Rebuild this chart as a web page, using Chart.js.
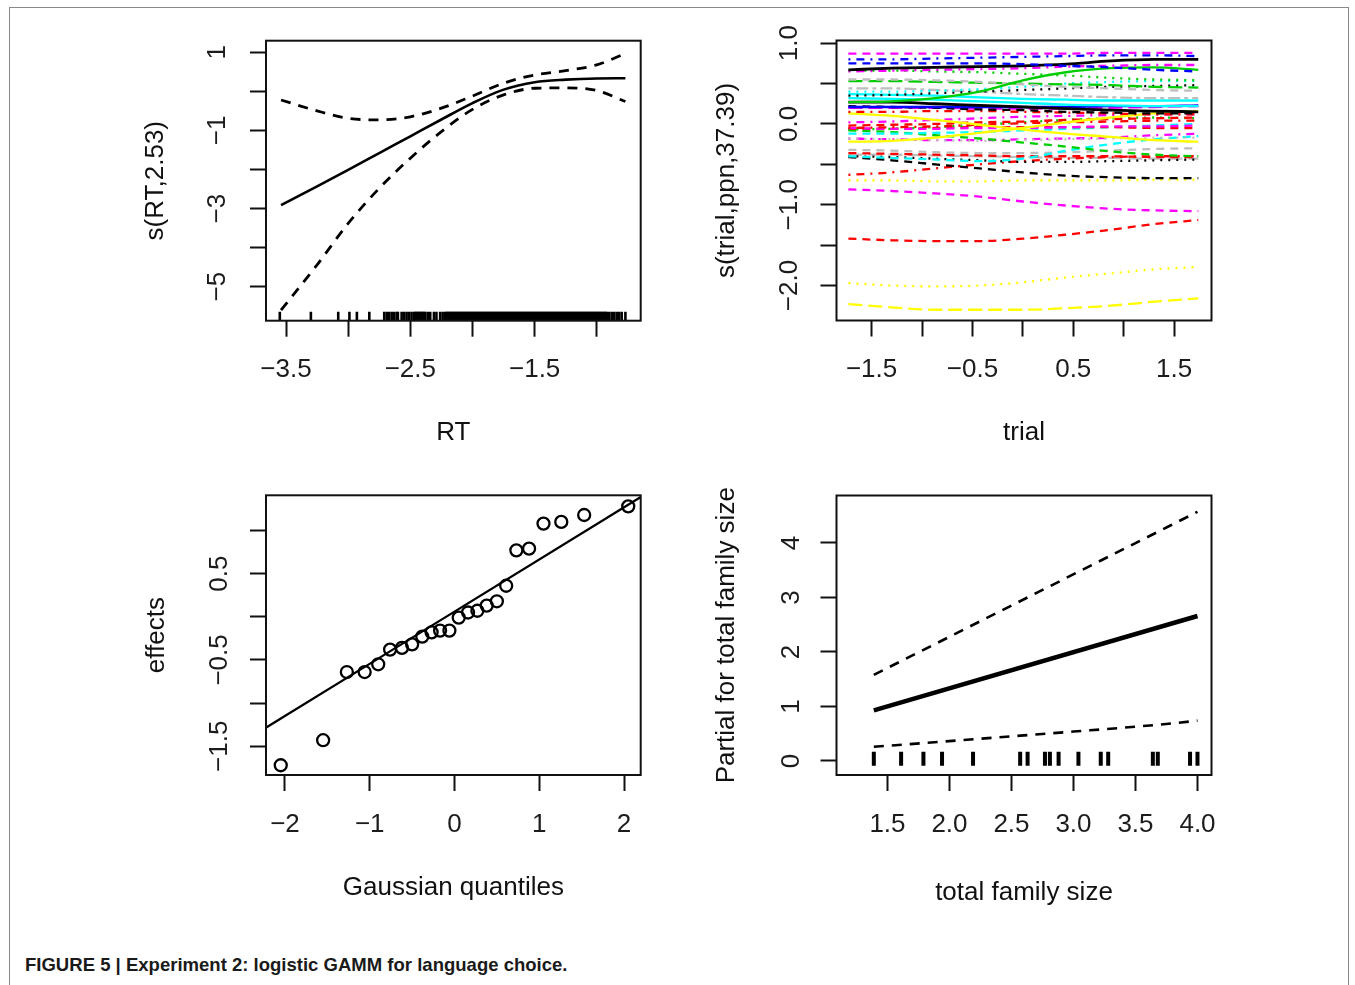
<!DOCTYPE html>
<html lang="en">
<head>
<meta charset="utf-8">
<title>Experiment 2: logistic GAMM for language choice</title>
<script src="https://cdn.jsdelivr.net/npm/chart.js@4.4.1/dist/chart.umd.min.js"></script>
<style>
  html, body { margin: 0; padding: 0; background: #fff; }
  body { position: relative; width: 1355px; height: 985px; overflow: hidden; }
  .frame { position: absolute; left: 9px; top: 7px; width: 1338px; height: 1200px; border: 1px solid #8a8a8a; }
  canvas.panel { position: absolute; }
  .caption {
    position: absolute; left: 25px; top: 954px;
    font: bold 19px 'Liberation Sans Narrow', 'Arial Narrow', 'Liberation Sans', sans-serif;
    color: #1a1a1a; white-space: nowrap;
    transform: scaleX(0.975); transform-origin: left center;
  }
</style>
</head>
<body>
<div class="frame"></div>
<canvas id="rtChart" class="panel"></canvas>
<canvas id="trialChart" class="panel"></canvas>
<canvas id="qqChart" class="panel"></canvas>
<canvas id="familyChart" class="panel"></canvas>
<div class="caption">FIGURE 5 | Experiment 2: logistic GAMM for language choice.</div>

<script>
// ---- s(RT): smooth with +/- 2 se bands and rug of observed RTs ----
const rtX = [-3.54, -3.25, -3.0, -2.75, -2.5, -2.25, -2.0, -1.75, -1.5, -1.25, -1.0, -0.77];
const rtFit = [-2.91, -2.43, -2.01, -1.58, -1.15, -0.72, -0.30, 0.045, 0.235, 0.30, 0.33, 0.335];
const rtUpper = [-0.22, -0.50, -0.69, -0.73, -0.65, -0.43, -0.12, 0.21, 0.42, 0.53, 0.68, 0.97];
const rtLower = [-5.60, -4.44, -3.38, -2.48, -1.71, -1.03, -0.46, -0.09, 0.08, 0.09, 0.02, -0.26];
const rtRug = [
  -3.55, -3.30, -3.08, -2.99, -2.93, -2.83, -2.71, -2.69, -2.67, -2.65, -2.63, -2.61, -2.60,
  -2.57, -2.55, -2.53, -2.51, -2.49,
  -2.47, -2.46, -2.45, -2.44, -2.43, -2.42, -2.41, -2.40, -2.39, -2.38,
  -2.36, -2.34, -2.31, -2.29, -2.26, -2.24, -2.22,
  -2.21, -2.20, -2.19, -2.18, -2.17, -2.16, -2.15, -2.14, -2.13, -2.12,
  -2.11, -2.10, -2.09, -2.08, -2.07, -2.06, -2.05, -2.04, -2.03, -2.02,
  -2.01, -2.00, -1.99, -1.98, -1.97, -1.96, -1.95, -1.94, -1.93, -1.92,
  -1.91, -1.90, -1.89, -1.88, -1.87, -1.86, -1.85, -1.84, -1.83, -1.82,
  -1.81, -1.80, -1.79, -1.78, -1.77, -1.76, -1.75, -1.74, -1.73, -1.72,
  -1.71, -1.70, -1.69, -1.68, -1.67, -1.66, -1.65, -1.64, -1.63, -1.62,
  -1.61, -1.60, -1.59, -1.58, -1.57, -1.56, -1.55, -1.54, -1.53, -1.52,
  -1.51, -1.50, -1.49, -1.48, -1.47, -1.46, -1.45, -1.44, -1.43, -1.42,
  -1.41, -1.40, -1.39, -1.38, -1.37, -1.36, -1.35, -1.34, -1.33, -1.32,
  -1.31, -1.30, -1.29, -1.28, -1.27, -1.26, -1.25, -1.24, -1.23, -1.22,
  -1.21, -1.20, -1.19, -1.18, -1.17, -1.16, -1.15, -1.14, -1.13, -1.12,
  -1.11, -1.10, -1.09, -1.08, -1.07, -1.06, -1.05, -1.04, -1.03, -1.02,
  -1.01, -1.00, -0.99, -0.98, -0.97, -0.96, -0.95, -0.94, -0.93, -0.92,
  -0.90, -0.88, -0.86, -0.84, -0.82, -0.80, -0.77
];
const rtRugLevel = -5.755;
const rtTicksX = [-3.5, -3, -2.5, -2, -1.5, -1];
const rtLabelsX = [-3.5, -2.5, -1.5];
const rtTicksY = [-5, -4, -3, -2, -1, 0, 1];
const rtLabelsY = [-5, -3, -1, 1];

// ---- s(trial, ppn): one curve per participant ----
const trialX = [-1.73, -1.3, -0.87, -0.43, 0, 0.43, 0.87, 1.3, 1.74];
const ppnCurves = [
  [0.87, 0.87, 0.87, 0.87, 0.87, 0.87, 0.88, 0.88, 0.88],
  [0.80, 0.80, 0.81, 0.82, 0.83, 0.84, 0.85, 0.85, 0.84],
  [0.75, 0.75, 0.75, 0.75, 0.74, 0.72, 0.70, 0.67, 0.65],
  [0.67, 0.69, 0.70, 0.71, 0.72, 0.74, 0.78, 0.80, 0.80],
  [0.65, 0.66, 0.67, 0.68, 0.69, 0.71, 0.72, 0.73, 0.73],
  [0.66, 0.66, 0.65, 0.64, 0.62, 0.60, 0.57, 0.55, 0.54],
  [0.27, 0.28, 0.32, 0.40, 0.54, 0.64, 0.69, 0.70, 0.67],
  [0.55, 0.55, 0.54, 0.52, 0.49, 0.46, 0.44, 0.42, 0.41],
  [0.53, 0.53, 0.52, 0.51, 0.50, 0.49, 0.48, 0.46, 0.45],
  [0.40, 0.40, 0.41, 0.43, 0.46, 0.50, 0.52, 0.53, 0.53],
  [0.35, 0.36, 0.38, 0.40, 0.42, 0.44, 0.46, 0.47, 0.48],
  [0.44, 0.44, 0.42, 0.40, 0.37, 0.35, 0.33, 0.32, 0.32],
  [0.37, 0.36, 0.35, 0.33, 0.31, 0.30, 0.29, 0.29, 0.29],
  [0.32, 0.31, 0.30, 0.28, 0.26, 0.24, 0.23, 0.22, 0.22],
  [0.27, 0.27, 0.25, 0.23, 0.21, 0.19, 0.17, 0.16, 0.15],
  [0.21, 0.21, 0.21, 0.21, 0.21, 0.21, 0.22, 0.22, 0.23],
  [0.22, 0.21, 0.20, 0.18, 0.17, 0.15, 0.14, 0.13, 0.13],
  [0.20, 0.20, 0.20, 0.19, 0.19, 0.19, 0.20, 0.21, 0.22],
  [0.15, 0.15, 0.16, 0.16, 0.15, 0.14, 0.13, 0.12, 0.12],
  [0.13, 0.10, 0.05, -0.01, -0.07, -0.12, -0.16, -0.20, -0.22],
  [-0.22, -0.21, -0.17, -0.11, -0.05, 0.02, 0.08, 0.13, 0.16],
  [0.02, 0.03, 0.05, 0.07, 0.09, 0.10, 0.11, 0.12, 0.12],
  [-0.02, -0.01, 0.00, 0.02, 0.03, 0.05, 0.06, 0.07, 0.08],
  [-0.05, -0.04, -0.03, -0.01, 0.01, 0.02, 0.03, 0.04, 0.04],
  [-0.05, -0.06, -0.06, -0.05, -0.05, -0.04, -0.03, -0.03, -0.02],
  [-0.07, -0.06, -0.04, -0.01, 0.02, 0.05, 0.07, 0.08, 0.07],
  [-0.06, -0.06, -0.05, -0.04, -0.04, -0.04, -0.04, -0.05, -0.05],
  [-0.12, -0.12, -0.11, -0.10, -0.08, -0.06, -0.04, -0.02, 0.00],
  [-0.08, -0.10, -0.14, -0.18, -0.23, -0.28, -0.34, -0.38, -0.40],
  [-0.18, -0.19, -0.20, -0.21, -0.20, -0.19, -0.18, -0.17, -0.17],
  [-0.18, -0.19, -0.20, -0.20, -0.19, -0.18, -0.17, -0.14, -0.12],
  [-0.40, -0.42, -0.44, -0.46, -0.43, -0.33, -0.25, -0.19, -0.15],
  [-0.32, -0.33, -0.35, -0.36, -0.36, -0.35, -0.33, -0.31, -0.30],
  [-0.41, -0.45, -0.50, -0.55, -0.60, -0.64, -0.66, -0.67, -0.67],
  [-0.40, -0.41, -0.43, -0.45, -0.47, -0.47, -0.46, -0.45, -0.44],
  [-0.63, -0.60, -0.55, -0.50, -0.46, -0.43, -0.41, -0.40, -0.40],
  [-0.36, -0.37, -0.38, -0.39, -0.40, -0.40, -0.40, -0.41, -0.41],
  [-0.38, -0.38, -0.39, -0.40, -0.41, -0.42, -0.42, -0.43, -0.43],
  [-0.70, -0.70, -0.71, -0.71, -0.70, -0.70, -0.70, -0.69, -0.69],
  [-0.81, -0.83, -0.86, -0.90, -0.96, -1.01, -1.05, -1.07, -1.08],
  [-1.42, -1.44, -1.45, -1.45, -1.42, -1.37, -1.31, -1.24, -1.19],
  [-1.97, -2.00, -2.01, -2.00, -1.96, -1.90, -1.85, -1.80, -1.77],
  [-2.23, -2.27, -2.30, -2.30, -2.30, -2.28, -2.25, -2.20, -2.16]
];
const ppnColours = [
  'm', 'b', 'b', 'k', 'm', 'g', 'g', 'e', 'g', 'c', 'k', 'e', 'c', 'c', 'k', 'b', 'k', 'm',
  'r', 'y', 'y', 'm', 'r', 'r', 'm', 'g', 'r', 'c', 'g', 'e', 'm', 'c', 'e', 'k', 'k', 'r',
  'r', 'e', 'y', 'm', 'r', 'y', 'y'
];
const ppnLineTypes = [
  'dashed', 'dotdash', 'dashed', 'solid', 'dotdash', 'dotted', 'solid', 'dashed', 'longdash',
  'dotted', 'dotted', 'twodash', 'solid', 'solid', 'solid', 'solid', 'dashed', 'longdash',
  'dotdash', 'solid', 'solid', 'dotdash', 'dashed', 'dotdash', 'dashed', 'dotted', 'dashed',
  'dashed', 'dashed', 'dotted', 'dotdash', 'dashed', 'dashed', 'dashed', 'dotted', 'dotdash',
  'dashed', 'longdash', 'dotted', 'dashed', 'dashed', 'dotted', 'longdash'
];
const trialTicksX = [-1.5, -1, -0.5, 0, 0.5, 1, 1.5];
const trialLabelsX = [-1.5, -0.5, 0.5, 1.5];
const trialTicksY = [-2, -1.5, -1, -0.5, 0, 0.5, 1];
const trialLabelsY = [-2, -1, 0, 1];

// ---- QQ plot of participant random effects ----
const qqTheoretical = [
  -2.05, -1.55, -1.27, -1.06, -0.90, -0.76, -0.62, -0.50, -0.38, -0.27, -0.17, -0.06,
  0.05, 0.16, 0.27, 0.38, 0.50, 0.61, 0.73, 0.88, 1.05, 1.26, 1.53, 2.05
];
const qqEffects = [
  -1.72, -1.43, -0.64, -0.64, -0.55, -0.38, -0.36, -0.32, -0.23, -0.18, -0.16, -0.16,
  -0.01, 0.05, 0.07, 0.13, 0.18, 0.36, 0.77, 0.79, 1.08, 1.10, 1.18, 1.28
];
const qqLineX = [-2.3, 2.3];
const qqLineY = [-1.33, 1.45];
const qqTicksX = [-2, -1, 0, 1, 2];
const qqTicksY = [-1.5, -1, -0.5, 0, 0.5, 1];
const qqLabelsY = [-1.5, -0.5, 0.5];

// ---- partial effect of total family size ----
const famX = [1.39, 4.0];
const famFit = [0.93, 2.66];
const famUpper = [1.58, 4.57];
const famLowerX = [1.39, 1.8, 2.2, 2.6, 3.0, 3.4, 3.8, 4.0];
const famLower = [0.26, 0.33, 0.40, 0.47, 0.54, 0.61, 0.69, 0.74];
const famRug = [1.39, 1.61, 1.79, 1.94, 2.19, 2.57, 2.63, 2.77, 2.81, 2.88, 3.04, 3.22, 3.28, 3.64, 3.68, 3.94, 4.00];
const famRugLevel = 0.04;
const famTicksX = [1.5, 2, 2.5, 3, 3.5, 4];
const famTicksY = [0, 1, 2, 3, 4];

// ---- styling ----
const FONT = "'Liberation Sans', Arimo, Arial, sans-serif";
const FONT_SIZE = 26;
const INK = '#1c1c1c';
const TICK_LEN = 16;

const palette = {
  k: '#000000', r: '#ff0000', g: '#00cd00', b: '#0000ff',
  c: '#00ffff', m: '#ff00ff', y: '#ffff00', e: '#bebebe'
};
const dashes = {
  solid: [], dashed: [8, 6], dotted: [2, 6], dotdash: [2, 6, 8, 6],
  longdash: [14, 6], twodash: [4, 4, 12, 4]
};

Chart.defaults.font.family = FONT;
Chart.defaults.font.size = FONT_SIZE;
Chart.defaults.color = INK;
Chart.defaults.animation = false;
Chart.defaults.plugins.legend.display = false;
Chart.defaults.plugins.tooltip.enabled = false;

const fmt = (v, digits) => (v < 0 ? '\u2212' : '') + Math.abs(v).toFixed(digits);
const xy = (xs, ys) => xs.map((x, i) => ({ x, y: ys[i] }));

const measureCtx = document.createElement('canvas').getContext('2d');
measureCtx.font = `${FONT_SIZE}px ${FONT}`;
const textWidth = s => measureCtx.measureText(s).width;

// box drawn round the plotting region, like base graphics
const plotBox = {
  id: 'plotBox',
  afterDatasetsDraw(chart) {
    const { ctx, chartArea: a } = chart;
    ctx.save();
    ctx.strokeStyle = '#111';
    ctx.lineWidth = 2;
    ctx.strokeRect(a.left, a.top, a.right - a.left, a.bottom - a.top);
    ctx.restore();
  }
};

function curve(xs, ys, colour, width, dash) {
  return {
    data: xy(xs, ys),
    borderColor: colour,
    borderWidth: width,
    borderDash: dash,
    pointRadius: 0,
    fill: false,
    cubicInterpolationMode: 'monotone'
  };
}

function rug(xs, level, halfLen, width) {
  return {
    data: xs.map(x => ({ x, y: level })),
    showLine: false,
    pointStyle: 'line',
    rotation: 90,
    pointRadius: halfLen,
    pointHoverRadius: halfLen,
    borderColor: '#000',
    borderWidth: width
  };
}

function makePanel(id, p, datasets) {
  const el = document.getElementById(id);
  el.width = p.canvas.w;
  el.height = p.canvas.h;
  el.style.left = p.canvas.x + 'px';
  el.style.top = p.canvas.y + 'px';

  const yAxisW = p.box.left - p.canvas.x;
  const xAxisH = p.canvas.y + p.canvas.h - p.box.bottom;
  const widest = Math.max(...p.y.labels.map(v => textWidth(fmt(v, p.y.digits))));
  const yPad = p.box.left - TICK_LEN - widest / 2 - p.y.labelCentre;

  const tickGrid = {
    display: true, drawOnChartArea: false, drawTicks: true,
    tickLength: TICK_LEN, tickWidth: 2, tickColor: '#111'
  };

  return new Chart(el, {
    type: 'line',
    data: { datasets },
    options: {
      responsive: false,
      devicePixelRatio: 1,
      layout: {
        padding: {
          left: 0, bottom: 0,
          top: p.box.top - p.canvas.y,
          right: p.canvas.x + p.canvas.w - p.box.right
        }
      },
      scales: {
        x: {
          type: 'linear', min: p.x.min, max: p.x.max,
          afterBuildTicks: s => { s.ticks = p.x.ticks.map(v => ({ value: v })); },
          afterFit: s => { s.height = xAxisH; },
          grid: tickGrid,
          border: { display: false },
          ticks: {
            autoSkip: false, maxRotation: 0, padding: p.x.labelPad, color: INK,
            callback: v => (p.x.labels.includes(v) ? fmt(v, p.x.digits) : '')
          },
          title: {
            display: true, text: p.x.title, color: '#111',
            padding: { top: 0, bottom: p.x.titlePad }
          }
        },
        y: {
          type: 'linear', min: p.y.min, max: p.y.max,
          afterBuildTicks: s => { s.ticks = p.y.ticks.map(v => ({ value: v })); },
          afterFit: s => { s.width = yAxisW; },
          grid: tickGrid,
          border: { display: false },
          ticks: {
            autoSkip: false, minRotation: 90, maxRotation: 90, crossAlign: 'center',
            padding: yPad, color: INK,
            callback: v => (p.y.labels.includes(v) ? fmt(v, p.y.digits) : '')
          },
          title: {
            display: true, text: p.y.title, color: '#111',
            padding: { top: p.y.titlePad, bottom: 0 }
          }
        }
      }
    },
    plugins: [plotBox]
  });
}

// top left: s(RT,2.53)
makePanel('rtChart', {
  canvas: { x: 110, y: 0, w: 560, h: 470 },
  box: { left: 266, top: 40.7, right: 640.7, bottom: 320.7 },
  x: { min: -3.661, max: -0.647, ticks: rtTicksX, labels: rtLabelsX, digits: 1,
       labelPad: 18, title: 'RT', titlePad: 22 },
  y: { min: -5.87, max: 1.297, ticks: rtTicksY, labels: rtLabelsY, digits: 0,
       labelCentre: 218, title: 's(RT,2.53)', titlePad: 30 }
}, [
  curve(rtX, rtFit, '#000', 2.6, []),
  curve(rtX, rtUpper, '#000', 2.8, [10, 8]),
  curve(rtX, rtLower, '#000', 2.8, [10, 8]),
  rug(rtRug, rtRugLevel, 4.5, 2.6)
]);

// top right: s(trial,ppn,37.39)
makePanel('trialChart', {
  canvas: { x: 680, y: 0, w: 560, h: 470 },
  box: { left: 836.5, top: 40.5, right: 1211.5, bottom: 320.5 },
  x: { min: -1.848, max: 1.871, ticks: trialTicksX, labels: trialLabelsX, digits: 1,
       labelPad: 18, title: 'trial', titlePad: 22 },
  y: { min: -2.433, max: 1.033, ticks: trialTicksY, labels: trialLabelsY, digits: 1,
       labelCentre: 790, title: 's(trial,ppn,37.39)', titlePad: 31 }
}, ppnCurves.map((ys, i) => curve(
  trialX, ys, palette[ppnColours[i]],
  ppnColours[i] === 'k' && ppnLineTypes[i] === 'solid' ? 2.8 : 2.3,
  dashes[ppnLineTypes[i]]
)));

// bottom left: QQ plot of effects
makePanel('qqChart', {
  canvas: { x: 110, y: 455, w: 560, h: 470 },
  box: { left: 266, top: 495.3, right: 640.7, bottom: 775 },
  x: { min: -2.224, max: 2.197, ticks: qqTicksX, labels: qqTicksX, digits: 0,
       labelPad: 18, title: 'Gaussian quantiles', titlePad: 22 },
  y: { min: -1.833, max: 1.408, ticks: qqTicksY, labels: qqLabelsY, digits: 1,
       labelCentre: 220, title: 'effects', titlePad: 31 }
}, [
  {
    data: xy(qqTheoretical, qqEffects),
    showLine: false,
    pointStyle: 'circle',
    pointRadius: 6,
    pointBorderWidth: 2.3,
    pointBorderColor: '#000',
    pointBackgroundColor: 'rgba(0,0,0,0)'
  },
  curve(qqLineX, qqLineY, '#000', 2.2, [])
]);

// bottom right: partial for total family size
makePanel('familyChart', {
  canvas: { x: 680, y: 455, w: 560, h: 470 },
  box: { left: 836.5, top: 495.5, right: 1211.5, bottom: 775 },
  x: { min: 1.089, max: 4.113, ticks: famTicksX, labels: famTicksX, digits: 1,
       labelPad: 18, title: 'total family size', titlePad: 17 },
  y: { min: -0.257, max: 4.87, ticks: famTicksY, labels: famTicksY, digits: 0,
       labelCentre: 792, title: 'Partial for total family size', titlePad: 31 }
}, [
  curve(famX, famFit, '#000', 4.5, []),
  curve(famX, famUpper, '#000', 2.6, [10, 8]),
  curve(famLowerX, famLower, '#000', 2.6, [10, 8]),
  rug(famRug, famRugLevel, 7, 4)
]);
</script>
</body>
</html>
